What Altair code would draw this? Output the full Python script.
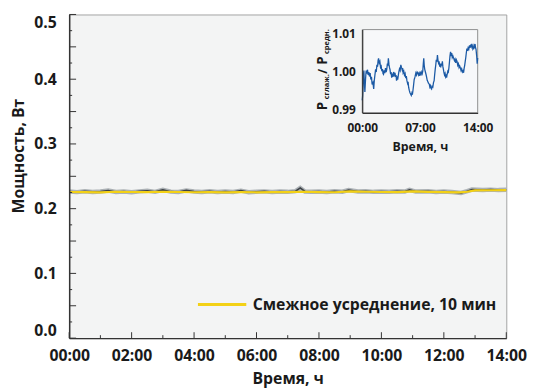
import altair as alt
import pandas as pd

# ---- main series: raw power (W) ----
raw_hours = [0.00, 0.25, 0.50, 0.75, 1.00, 1.25, 1.50, 1.75, 2.00, 2.25, 2.50, 2.75,
             3.00, 3.25, 3.50, 3.75, 4.00, 4.25, 4.50, 4.75, 5.00, 5.25, 5.50, 5.75,
             6.00, 6.25, 6.50, 6.75, 7.00, 7.25, 7.40, 7.55, 7.75, 8.00, 8.25, 8.50,
             8.75, 8.95, 9.25, 9.50, 9.75, 10.00, 10.25, 10.50, 10.75, 10.90, 11.10,
             11.50, 11.75, 12.00, 12.25, 12.55, 12.75, 12.90, 13.25, 13.50, 13.75, 14.00]
raw_power = [0.2265, 0.2256, 0.2268, 0.2259, 0.2266, 0.2280, 0.2258, 0.2264, 0.2254, 0.2267,
             0.2278, 0.2260, 0.2290, 0.2263, 0.2258, 0.2282, 0.2265, 0.2259, 0.2268, 0.2257,
             0.2264, 0.2258, 0.2278, 0.2255, 0.2262, 0.2267, 0.2258, 0.2265, 0.2260, 0.2270,
             0.2320, 0.2266, 0.2260, 0.2266, 0.2257, 0.2268, 0.2262, 0.2288, 0.2266, 0.2270,
             0.2260, 0.2265, 0.2261, 0.2268, 0.2264, 0.2292, 0.2265, 0.2268, 0.2259, 0.2264,
             0.2258, 0.2242, 0.2270, 0.2295, 0.2288, 0.2294, 0.2287, 0.2292]

# ---- main series: 10-min moving average ----
avg_hours = [0.0, 0.5, 1.0, 1.5, 2.0, 2.5, 3.0, 3.5, 4.0, 4.5, 5.0, 5.5, 6.0, 6.5, 7.0,
             7.5, 8.0, 8.5, 9.0, 9.5, 10.0, 10.5, 11.0, 11.5, 12.0, 12.5, 12.75, 13.0,
             13.5, 14.0]
avg_power = [0.2258, 0.2255, 0.2252, 0.2262, 0.2258, 0.2256, 0.2262, 0.2258, 0.2254, 0.2256,
             0.2252, 0.2255, 0.2253, 0.2256, 0.2255, 0.2262, 0.2256, 0.2254, 0.2268, 0.2262,
             0.2258, 0.2256, 0.2266, 0.2260, 0.2256, 0.2252, 0.2262, 0.2282, 0.2284, 0.2286]
legend_label = "Смежное усреднение, 10 мин"

# ---- inset: P_smoothed / P_mean ----
inset_hours = [0.00, 0.05, 0.10, 0.15, 0.20, 0.25, 0.32, 0.38, 0.44, 0.48, 0.56, 0.64, 0.72,
               0.80, 0.88, 0.96, 1.04, 1.12, 1.20, 1.30, 1.39, 1.46, 1.54, 1.62, 1.70, 1.78,
               1.86, 1.92, 1.98, 2.06, 2.14, 2.22, 2.30, 2.38, 2.46, 2.52, 2.58, 2.66, 2.74,
               2.82, 2.90, 2.97, 3.05, 3.11, 3.17, 3.24, 3.30, 3.37, 3.44, 3.50, 3.57, 3.64,
               3.72, 3.80, 3.88, 3.97, 4.04, 4.10, 4.16, 4.24, 4.30, 4.36, 4.44, 4.52, 4.60,
               4.68, 4.76, 4.84, 4.90, 4.96, 5.04, 5.12, 5.20, 5.28, 5.35, 5.42, 5.50, 5.56,
               5.63, 5.70, 5.78, 5.86, 5.95, 6.02, 6.08, 6.15, 6.22, 6.30, 6.36, 6.42, 6.50,
               6.58, 6.66, 6.74, 6.82, 6.90, 6.98, 7.06, 7.14, 7.22, 7.28, 7.34, 7.40, 7.46,
               7.52, 7.58, 7.66, 7.73, 7.80, 7.88, 7.96, 8.04, 8.13, 8.20, 8.28, 8.34, 8.41,
               8.48, 8.56, 8.64, 8.72, 8.78, 8.85, 8.92, 8.98, 9.05, 9.12, 9.18, 9.25, 9.32,
               9.38, 9.44, 9.52, 9.58, 9.65, 9.72, 9.78, 9.85, 9.91, 9.98, 10.05, 10.12,
               10.18, 10.23, 10.30, 10.38, 10.44, 10.51, 10.58, 10.64, 10.71, 10.78, 10.85,
               10.92, 11.00, 11.10, 11.18, 11.26, 11.34, 11.42, 11.50, 11.58, 11.66, 11.74,
               11.82, 11.90, 11.98, 12.06, 12.14, 12.22, 12.29, 12.36, 12.42, 12.49, 12.55,
               12.62, 12.69, 12.76, 12.84, 12.92, 13.01, 13.08, 13.15, 13.22, 13.29, 13.36,
               13.42, 13.48, 13.55, 13.62, 13.68, 13.74, 13.80, 13.88, 13.94, 14.00]
inset_ratio = [0.9923, 0.9935, 0.9960, 0.9990, 1.0002, 0.9975, 0.9945, 0.9970, 0.9992, 1.0002,
               0.9994, 1.0004, 0.9990, 0.9998, 0.9986, 0.9995, 0.9978, 0.9985, 0.9965, 0.9970,
               0.9953, 0.9975, 0.9990, 1.0005, 0.9998, 1.0017, 1.0012, 1.0028, 1.0034, 1.0022,
               1.0026, 1.0010, 1.0013, 1.0000, 1.0006, 0.9994, 0.9992, 1.0002, 0.9995, 1.0008,
               0.9998, 1.0004, 1.0020, 1.0015, 1.0034, 1.0018, 1.0010, 1.0004, 0.9992, 0.9998,
               0.9983, 0.9990, 0.9985, 0.9998, 0.9990, 0.9996, 0.9985, 0.9990, 0.9975, 0.9982,
               0.9978, 0.9987, 0.9998, 1.0006, 1.0002, 1.0017, 1.0010, 1.0004, 1.0008, 0.9996,
               1.0000, 0.9990, 0.9994, 0.9982, 0.9987, 0.9975, 0.9968, 0.9972, 0.9957, 0.9950,
               0.9944, 0.9940, 0.9936, 0.9942, 0.9938, 0.9949, 0.9962, 0.9978, 0.9982, 0.9987,
               0.9995, 0.9990, 0.9998, 0.9996, 0.9990, 0.9995, 0.9988, 0.9996, 0.9992, 0.9998,
               0.9994, 1.0000, 1.0018, 1.0034, 1.0015, 1.0005, 0.9998, 0.9992, 0.9985, 0.9976,
               0.9972, 0.9968, 0.9966, 0.9958, 0.9962, 0.9955, 0.9953, 0.9960, 0.9958, 0.9970,
               0.9975, 0.9990, 1.0005, 1.0017, 1.0030, 1.0025, 1.0043, 1.0030, 1.0022, 1.0026,
               1.0015, 1.0017, 1.0010, 1.0020, 1.0015, 1.0026, 1.0012, 1.0004, 0.9996, 0.9990,
               0.9994, 0.9985, 0.9988, 0.9983, 0.9992, 1.0000, 0.9998, 1.0009, 1.0025, 1.0040,
               1.0051, 1.0044, 1.0048, 1.0036, 1.0040, 1.0034, 1.0028, 1.0032, 1.0022, 1.0030,
               1.0026, 1.0016, 1.0020, 1.0010, 1.0014, 1.0009, 1.0002, 1.0006, 0.9998, 1.0001,
               0.9996, 1.0008, 1.0015, 1.0026, 1.0035, 1.0048, 1.0060, 1.0054, 1.0062, 1.0058,
               1.0068, 1.0062, 1.0070, 1.0065, 1.0072, 1.0066, 1.0058, 1.0060, 1.0068, 1.0064,
               1.0072, 1.0062, 1.0058, 1.0040, 1.0020, 1.0035]

# ---- axis tick values ----
x_major = [0, 2, 4, 6, 8, 10, 12, 14]
x_minor = [1, 3, 5, 7, 9, 11, 13]
y_labels = [0.0, 0.1, 0.2, 0.3, 0.4, 0.5]
y_long = [0.0, 0.05, 0.1, 0.15, 0.2, 0.25, 0.3, 0.35, 0.4, 0.45, 0.5]
y_short = [0.025, 0.075, 0.125, 0.175, 0.225, 0.275, 0.325, 0.375, 0.425, 0.475]
inset_x_labels = [0, 7, 14]
inset_y_labels = [0.99, 1.00, 1.01]
inset_x_domain = [0, 14]
inset_y_domain = [0.989, 1.011]
inset_title_parts = ["P", "сглаж.", "/", "P", "средн."]

FONT = "Open Sans"
INK = "#1a1a1a"
W, H = 443, 328

raw_df = pd.DataFrame({"h": raw_hours, "p": raw_power})
avg_df = pd.DataFrame({"h": avg_hours, "p": avg_power, "s": legend_label})
ins_df = pd.DataFrame({"h": inset_hours, "r": inset_ratio})

mx = alt.Scale(domain=[0, 14], nice=False, zero=False)
my = alt.Scale(domain=[0, 0.5], nice=False, zero=False)
ix = alt.Scale(domain=inset_x_domain, range=[297, 414], nice=False, zero=False)
iy = alt.Scale(domain=inset_y_domain, range=[99.7, 15.3], nice=False, zero=False)

hour_expr = "(datum.value < 10 ? '0' : '') + datum.value + ':00'"

main_x_axis = alt.Axis(values=x_major, labelExpr=hour_expr, ticks=False, tickSize=0,
                       labelPadding=10, labelFont=FONT, labelFontSize=16, labelFontWeight="bold",
                       labelColor=INK, labelFlush=False, domainColor="#333333", domainWidth=1.5,
                       title="Время, ч", titleFont=FONT, titleFontSize=16, titleFontWeight="bold",
                       titleColor=INK, titleY=46, titleBaseline="alphabetic", grid=False, zindex=1)
main_y_axis = alt.Axis(values=y_labels, format=".1f", ticks=False, tickSize=0, labelPadding=13,
                       labelFont=FONT, labelFontSize=16, labelFontWeight="bold", labelColor=INK,
                       labelFlush=True, domainColor="#333333", domainWidth=1.5,
                       title="Мощность, Вт", titleFont=FONT, titleFontSize=16, titleFontWeight="bold",
                       titleColor=INK, titleX=-51, titleY=143, titleBaseline="middle",
                       grid=False, zindex=1)

halo = alt.Chart(raw_df).mark_line(color="#9aa0a5", strokeWidth=4.5, opacity=0.8).encode(
    x=alt.X("h:Q", scale=mx, axis=main_x_axis),
    y=alt.Y("p:Q", scale=my, axis=main_y_axis),
)
core = alt.Chart(raw_df).mark_line(color="#3c4146", strokeWidth=1.6).encode(
    x=alt.X("h:Q", scale=mx, axis=None),
    y=alt.Y("p:Q", scale=my, axis=None),
)
avg = alt.Chart(avg_df).mark_line(strokeWidth=2.2).encode(
    x=alt.X("h:Q", scale=mx, axis=None),
    y=alt.Y("p:Q", scale=my, axis=None),
    color=alt.Color("s:N", scale=alt.Scale(domain=[legend_label], range=["#f3d116"]),
                    legend=alt.Legend(orient="none", legendX=129, legendY=268, title=None,
                                      symbolType="stroke", symbolSize=2401, symbolStrokeWidth=3,
                                      labelFont=FONT, labelFontSize=16, labelFontWeight="bold",
                                      labelColor=INK, labelOffset=5, labelLimit=0, padding=0)),
)

ytl = alt.Chart(pd.DataFrame({"v": y_long})).mark_rule(color="#333333", strokeWidth=1).encode(
    y=alt.Y("v:Q", scale=my, axis=None), x=alt.value(0), x2=alt.value(7))
yts = alt.Chart(pd.DataFrame({"v": y_short})).mark_rule(color="#333333", strokeWidth=1).encode(
    y=alt.Y("v:Q", scale=my, axis=None), x=alt.value(0), x2=alt.value(3))
xtl = alt.Chart(pd.DataFrame({"v": x_major})).mark_rule(color="#333333", strokeWidth=1).encode(
    x=alt.X("v:Q", scale=mx, axis=None), y=alt.value(H), y2=alt.value(H - 6))
xts = alt.Chart(pd.DataFrame({"v": x_minor})).mark_rule(color="#333333", strokeWidth=1).encode(
    x=alt.X("v:Q", scale=mx, axis=None), y=alt.value(H), y2=alt.value(H - 3))

# inset
inset_bg = alt.Chart(pd.DataFrame({"x0": [inset_x_domain[0]], "x1": [inset_x_domain[1]],
                                   "y0": [inset_y_domain[0]], "y1": [inset_y_domain[1]]})).mark_rect(
    fill="#f7f8fa", stroke="#8f8f8f", strokeWidth=1).encode(
    x=alt.X("x0:Q", scale=ix, axis=None), x2="x1:Q",
    y=alt.Y("y0:Q", scale=iy, axis=None), y2="y1:Q")

inset_line = alt.Chart(ins_df).mark_line(color="#1c5aa5", strokeWidth=1.3).encode(
    x=alt.X("h:Q", scale=ix, axis=alt.Axis(orient="bottom", offset=-(H - 99.7), values=inset_x_labels,
                                           labelExpr=hour_expr, ticks=False, tickSize=0, labelPadding=10,
                                           labelFont=FONT, labelFontSize=12, labelFontWeight="bold",
                                           labelColor=INK, labelFlush=False, domainColor="#333333",
                                           domainWidth=1.2, title="Время, ч", titleFont=FONT,
                                           titleFontSize=12.5, titleFontWeight="bold", titleColor=INK,
                                           titleY=38, titleBaseline="alphabetic", grid=False, zindex=1)),
    y=alt.Y("r:Q", scale=iy, axis=alt.Axis(orient="left", offset=-297, values=inset_y_labels,
                                           format=".2f", ticks=False, tickSize=0, labelPadding=7,
                                           labelFont=FONT, labelFontSize=12, labelFontWeight="bold",
                                           labelColor=INK, labelFlush=False, domainColor="#333333",
                                           domainWidth=1.2, title=None, grid=False, zindex=1)),
)

def part(i, xpos, ypos, size):
    return alt.Chart(pd.DataFrame({"t": [inset_title_parts[i]]})).mark_text(
        angle=270, align="left", baseline="alphabetic", font=FONT, fontSize=size,
        fontWeight="bold", color=INK).encode(text="t:N", x=alt.value(xpos), y=alt.value(ypos))

title_parts = [part(0, 261, 97, 13.5), part(1, 263, 86, 7.5), part(2, 261, 60, 12),
               part(3, 261, 51, 13.5), part(4, 263, 40, 7.5)]

chart = alt.layer(halo, core, avg, ytl, yts, xtl, xts, inset_bg, inset_line, *title_parts).resolve_scale(
    x="independent", y="independent"
).properties(
    width=W, height=H,
    autosize=alt.AutoSizeParams(type="none"),
    padding={"left": 62, "top": 4, "right": 22, "bottom": 50},
).configure_view(fill="#f3f4f4", stroke="#a3a3a3", strokeWidth=1)

chart.save("out.html", embed_options={"renderer": "svg", "actions": False})
